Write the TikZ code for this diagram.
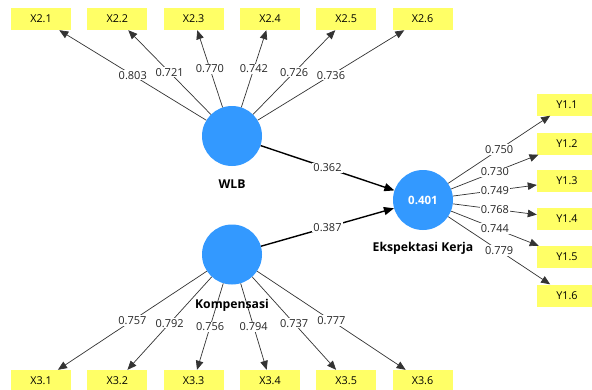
\documentclass[tikz,border=0pt]{standalone}
\usepackage{fontspec}
\setmainfont{Open Sans}
\usetikzlibrary{arrows.meta}
\definecolor{lvblue}{RGB}{51,153,255}
\definecolor{indyellow}{RGB}{255,255,102}
\begin{document}
\begin{tikzpicture}[x=1pt,y=-1pt,
  lv/.style={circle,fill=lvblue,minimum size=60pt,inner sep=0pt,text=white,font=\fontsize{11.5}{13}\selectfont\bfseries},
  ind/.style={rectangle,fill=indyellow,minimum width=60pt,minimum height=22pt,inner sep=0pt,font=\fontsize{10.8}{12}\selectfont},
  load/.style={draw=black!80,line width=0.7pt,-{Triangle[length=9pt,width=7.5pt]}},
  structarrow/.style={draw=black,line width=1.4pt,-{Triangle[length=10pt,width=8pt]}},
  coef/.style={fill=white,inner sep=1pt,font=\fontsize{11}{12}\selectfont,text=black!85},
  lvname/.style={font=\fontsize{12.2}{14}\selectfont\bfseries}]
\useasboundingbox[fill=white] (0,0) rectangle (592,389);

% latent variables
\node[lv] (wlb) at (232,136) {};
\node[lv] (komp) at (232,254.5) {};
\node[lv] (ek) at (423,200) {0.401};
\node[lvname] (wlbname) at (232,184) {WLB};
\node[lvname] (ekname) at (423,248) {Ekspektasi Kerja};

% indicators top
\node[ind] (x21) at (41,19) {X2.1};
\node[ind] (x22) at (117.3,19) {X2.2};
\node[ind] (x23) at (193.6,19) {X2.3};
\node[ind] (x24) at (270,19) {X2.4};
\node[ind] (x25) at (346.2,19) {X2.5};
\node[ind] (x26) at (422.5,19) {X2.6};
% indicators bottom
\node[ind] (x31) at (41,381) {X3.1};
\node[ind] (x32) at (117.3,381) {X3.2};
\node[ind] (x33) at (193.6,381) {X3.3};
\node[ind] (x34) at (270,381) {X3.4};
\node[ind] (x35) at (346.2,381) {X3.5};
\node[ind] (x36) at (422.5,381) {X3.6};
% indicators right
\node[ind] (y11) at (567,104.5) {Y1.1};
\node[ind] (y12) at (567,143.5) {Y1.2};
\node[ind] (y13) at (567,181) {Y1.3};
\node[ind] (y14) at (567,218.5) {Y1.4};
\node[ind] (y15) at (567,257) {Y1.5};
\node[ind] (y16) at (567,295.5) {Y1.6};

% loadings WLB
\draw[load] (wlb) -- node[coef]{0.803} (x21);
\draw[load] (wlb) -- node[coef]{0.721} (x22);
\draw[load] (wlb) -- node[coef]{0.770} (x23);
\draw[load] (wlb) -- node[coef]{0.742} (x24);
\draw[load] (wlb) -- node[coef]{0.726} (x25);
\draw[load] (wlb) -- node[coef]{0.736} (x26);
% loadings Kompensasi
\draw[load] (komp) -- node[coef]{0.757} (x31);
\draw[load] (komp) -- node[coef]{0.792} (x32);
\draw[load] (komp) -- node[coef]{0.756} (x33);
\draw[load] (komp) -- node[coef]{0.794} (x34);
\draw[load] (komp) -- node[coef]{0.737} (x35);
\draw[load] (komp) -- node[coef]{0.777} (x36);
% loadings Ekspektasi Kerja
\draw[load] (ek) -- node[coef]{0.750} (y11);
\draw[load] (ek) -- node[coef]{0.730} (y12);
\draw[load] (ek) -- node[coef]{0.749} (y13);
\draw[load] (ek) -- node[coef]{0.768} (y14);
\draw[load] (ek) -- node[coef]{0.744} (y15);
\draw[load] (ek) -- node[coef]{0.779} (y16);

% structural paths
\draw[structarrow] (wlb) -- node[coef]{0.362} (ek);
\draw[structarrow] (komp) -- node[coef]{0.387} (ek);

% name drawn over the loading lines
\node[lvname] (kompname) at (232,305) {Kompensasi};
\end{tikzpicture}
\end{document}
